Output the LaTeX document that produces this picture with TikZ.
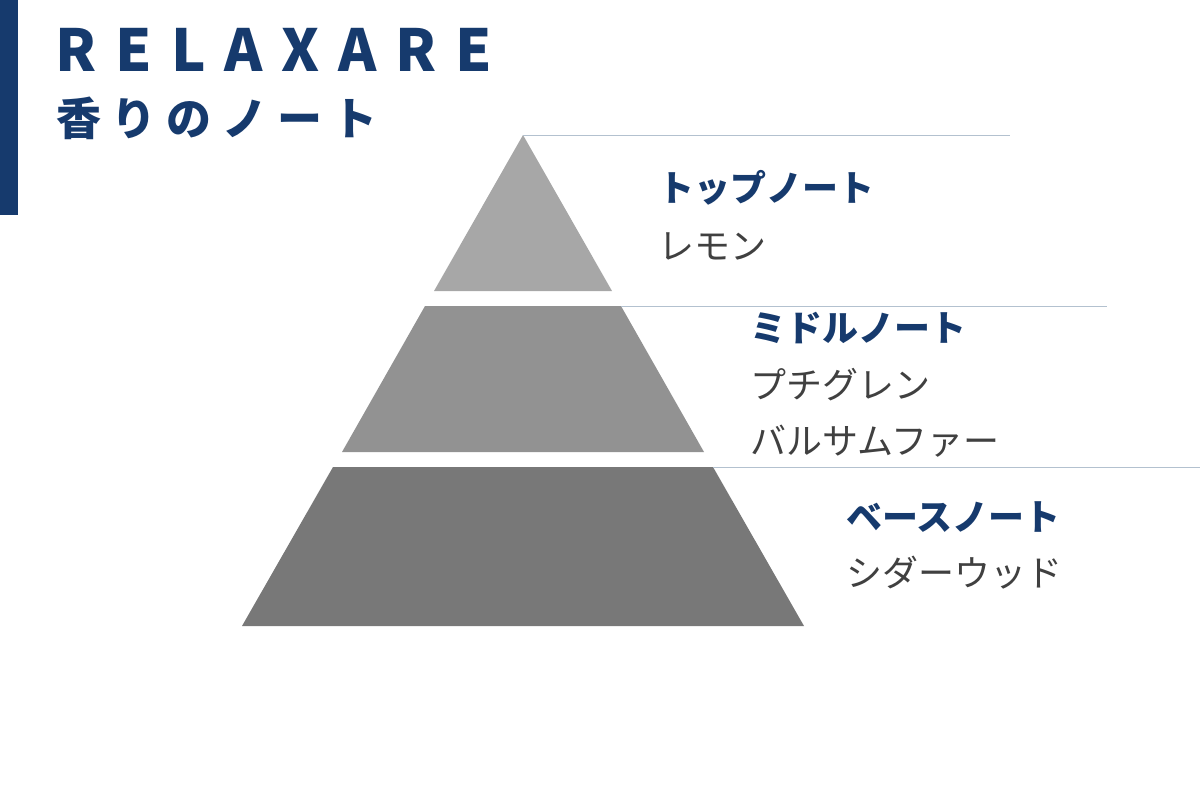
\documentclass[tikz,border=0pt]{standalone}
\usepackage{fontspec}
\setmainfont{Noto Sans CJK JP}
\newfontfamily\spacedfont[LetterSpace=23]{Noto Sans CJK JP}
\newfontfamily\titlefont[LetterSpace=33]{Noto Sans CJK JP}
\usepackage{tikz}

\definecolor{navy}{HTML}{163A6D}
\definecolor{topgray}{HTML}{A7A7A7}
\definecolor{midgray}{HTML}{929292}
\definecolor{basegray}{HTML}{787878}
\definecolor{rulecol}{HTML}{B3C1CF}
\definecolor{inkgray}{HTML}{404040}

\begin{document}
\begin{tikzpicture}[x=1pt,y=-1pt,
  note/.style={anchor=west,inner sep=0pt,text=navy,font=\fontsize{36}{36}\selectfont\bfseries},
  item/.style={anchor=west,inner sep=0pt,text=inkgray,font=\fontsize{36}{36}\selectfont},
  rule/.style={draw=rulecol,line width=1pt}]

  \useasboundingbox (0,0) rectangle (1200,800);
  \fill[navy] (0,0) rectangle (18,215);

  \node[anchor=base west,inner sep=0pt,text=navy,font=\titlefont\fontsize{58}{58}\selectfont\bfseries] (title) at (55,71) {RELAXARE};
  \node[anchor=west,inner sep=0pt,text=navy,font=\spacedfont\fontsize{45}{45}\selectfont\bfseries] (subtitle) at (56,118) {香りのノート};

  \coordinate (A) at (523,135); \coordinate (B) at (434,291); \coordinate (C) at (612,291);
  \coordinate (TR) at (1010,135);
  \fill[topgray] (A) -- (B) -- (C) -- cycle;

  \coordinate (D) at (425,306); \coordinate (E) at (621,306);
  \coordinate (F) at (704,452); \coordinate (G) at (342,452);
  \coordinate (MR) at (1107,306);
  \fill[midgray] (D) -- (E) -- (F) -- (G) -- cycle;

  \coordinate (H) at (333,467); \coordinate (K) at (713,467);
  \coordinate (L) at (804,626); \coordinate (M) at (242,626);
  \coordinate (BR) at (1200,467);
  \fill[basegray] (H) -- (K) -- (L) -- (M) -- cycle;

  \draw[rule] (A) -- (TR);
  \draw[rule] (E) -- (MR);
  \draw[rule] (K) -- (BR);

  \node[note] (topnote) at (658,188) {トップノート};
  \node[item] (lemon) at (658,246) {レモン};

  \node[note] (middlenote) at (750,328) {ミドルノート};
  \node[item] (petitgrain) at (750,385) {プチグレン};
  \node[item] (balsam) at (750,441) {バルサムファー};

  \node[note] (basenote) at (846,517) {ベースノート};
  \node[item] (cedar) at (846,573) {シダーウッド};

\end{tikzpicture}
\end{document}
